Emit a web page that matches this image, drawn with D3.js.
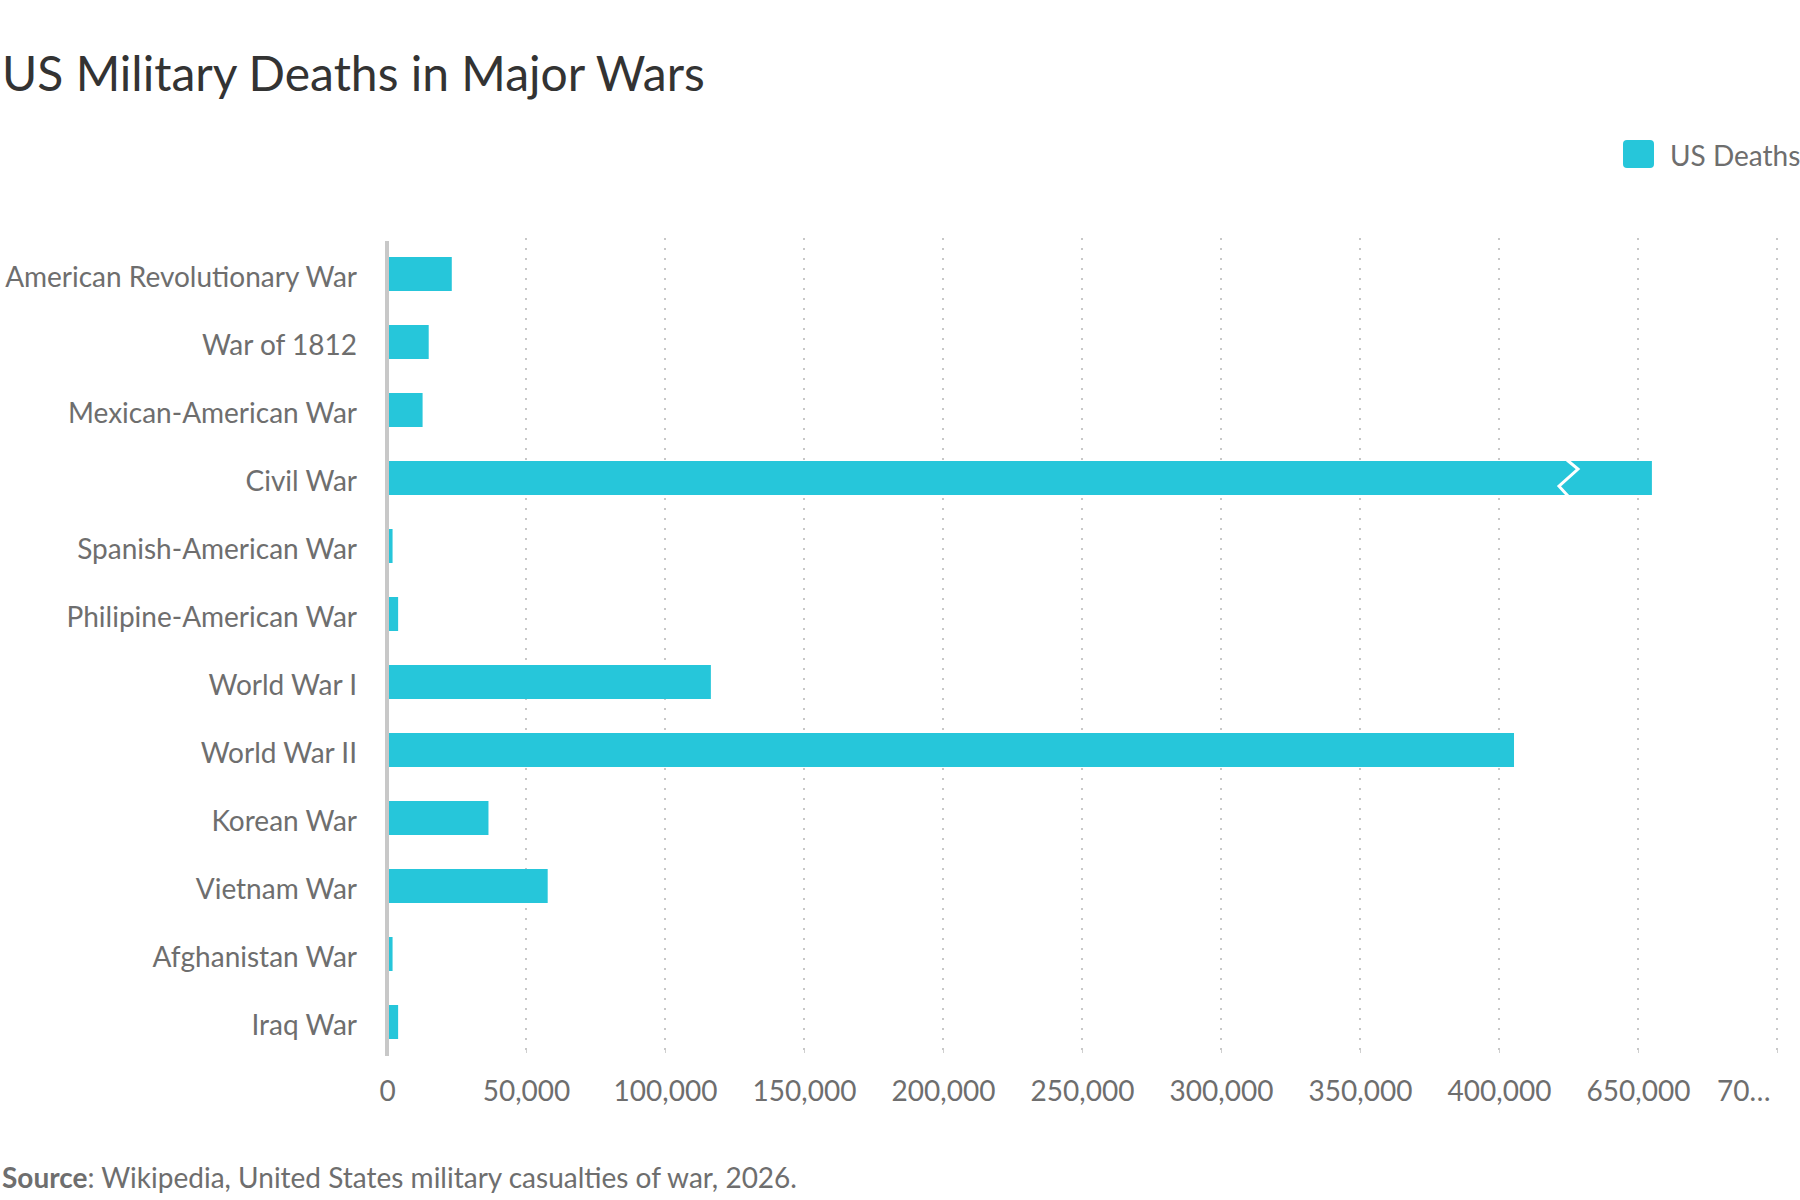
<!DOCTYPE html>
<html>
<head>
<meta charset="utf-8">
<script src="https://cdn.jsdelivr.net/npm/d3@7"></script>
<style>
    body { margin: 0; background: #fff; font-family: Lato, "Noto Sans", sans-serif; }
    .title { fill: #333; font-size: 48px; }
    .label { fill: #6e6e6e; font-size: 28px; }
    .source { fill: #6e6e6e; font-size: 28px; }
</style>
</head>
<body>
<div id="chart"></div>
<script>
// data
const wars = [
    'American Revolutionary War', 'War of 1812', 'Mexican-American War', 'Civil War',
    'Spanish-American War', 'Philipine-American War', 'World War I', 'World War II',
    'Korean War', 'Vietnam War', 'Afghanistan War', 'Iraq War'
];
const deaths = [23300, 15000, 12800, 655000, 2000, 4000, 116500, 405400, 36500, 57800, 2000, 4000];

// broken axis: 450k -> 650k is cut out
const tickValues = [0, 50000, 100000, 150000, 200000, 250000, 300000, 350000, 400000, 650000, 700000];
const tickLabels = ['0', '50,000', '100,000', '150,000', '200,000', '250,000', '300,000', '350,000', '400,000', '650,000', '70…'];
const breakDomain = [0, 450000, 650000, 700000];
const breakAt = 425000;
const seriesName = 'US Deaths';

const dimensions = { width: 1800, height: 1200 };
const margin = { top: 240, left: 387 };
const graphWidth = 1390;
const graphHeight = 816;
const barColor = '#26c6da';

const svg = d3.select('#chart')
    .append('svg')
    .attr('width', dimensions.width)
    .attr('height', dimensions.height);

svg.append('text')
    .attr('class', 'title')
    .attr('x', 2)
    .attr('y', 91)
    .text('US Military Deaths in Major Wars');

// legend
const legend = svg.append('g').attr('transform', 'translate(1623, 140)');
legend.append('rect')
    .attr('width', 31).attr('height', 28)
    .attr('rx', 4)
    .attr('fill', barColor);
legend.append('text')
    .attr('class', 'label')
    .attr('x', 47).attr('y', 26)
    .text(seriesName);

const graph = svg.append('g')
    .attr('transform', `translate(${margin.left}, ${margin.top})`);

// scales
const step = graphWidth / 10;
const x = d3.scaleLinear()
    .domain(breakDomain)
    .range([0, step * 9, step * 9, step * 10]);

const y = d3.scaleBand()
    .domain(wars)
    .range([0, graphHeight])
    .paddingInner(0.5)
    .paddingOuter(0.25);

// grid lines
graph.selectAll('.grid')
    .data(tickValues.slice(1))
    .enter()
    .append('line')
        .attr('class', 'grid')
        .attr('x1', d => x(d)).attr('x2', d => x(d))
        .attr('y1', -2).attr('y2', graphHeight - 6)
        .attr('stroke', '#c8c8c8')
        .attr('stroke-width', 2)
        .attr('stroke-dasharray', '2,8');

// x axis
const xAxis = d3.axisBottom(x)
    .tickValues(tickValues)
    .tickSize(3)
    .tickPadding(28)
    .tickFormat((d, i) => tickLabels[i]);

const xAxisGroup = graph.append('g')
    .attr('transform', `translate(0, ${graphHeight - 6})`)
    .call(xAxis);
xAxisGroup.select('.domain').remove();
xAxisGroup.selectAll('.tick line').attr('stroke', '#d0d0d0');
xAxisGroup.selectAll('.tick text')
    .attr('fill', '#6e6e6e')
    .style('font-family', 'Lato')
    .style('font-size', '28px');
// last label is clipped at the right edge
xAxisGroup.selectAll('.tick text')
    .filter((d, i) => i === tickValues.length - 1)
    .attr('text-anchor', 'end')
    .attr('dx', -7);

// bars
graph.selectAll('.bar')
    .data(deaths)
    .enter()
    .append('rect')
        .attr('class', 'bar')
        .attr('x', 0)
        .attr('y', (d, i) => y(wars[i]))
        .attr('width', d => x(d))
        .attr('height', y.bandwidth())
        .attr('fill', barColor);

// break marker on bars crossing the gap
const breakX = x(breakAt);
const h = y.bandwidth();
graph.selectAll('.break')
    .data(deaths.map((d, i) => ({ d, war: wars[i] })).filter(o => o.d > breakDomain[2]))
    .enter()
    .append('path')
        .attr('class', 'break')
        .attr('d', o => {
            const t = y(o.war);
            return `M${breakX - 1.5},${t - 1} L${breakX + 9.5},${t + h * 0.24} L${breakX - 9.5},${t + h * 0.74} L${breakX - 0.5},${t + h + 1}`;
        })
        .attr('fill', 'none')
        .attr('stroke', '#fff')
        .attr('stroke-width', 3);

// zero line
graph.append('line')
    .attr('x1', 0).attr('x2', 0)
    .attr('y1', 1).attr('y2', graphHeight)
    .attr('stroke', '#c8c8c8')
    .attr('stroke-width', 4);

// category labels
graph.selectAll('.label-y')
    .data(wars)
    .enter()
    .append('text')
        .attr('class', 'label')
        .attr('x', -30)
        .attr('y', d => y(d) + y.bandwidth() / 2 + 3)
        .attr('dy', '0.35em')
        .attr('text-anchor', 'end')
        .text(d => d);

// source
const source = svg.append('text')
    .attr('class', 'source')
    .attr('x', 2)
    .attr('y', 1188);
source.append('tspan').attr('font-weight', 'bold').text('Source');
source.append('tspan').text(': Wikipedia, United States military casualties of war, 2026.');
</script>
</body>
</html>
